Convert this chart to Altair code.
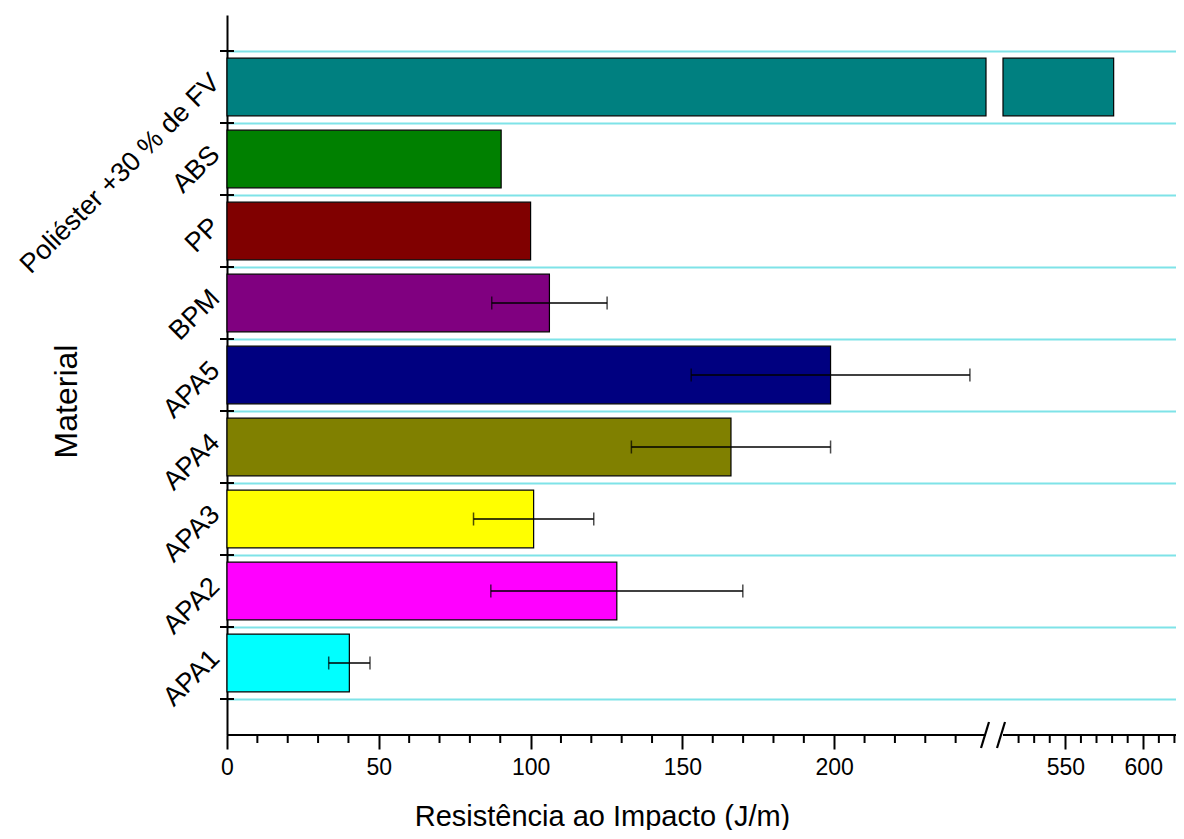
import altair as alt
import pandas as pd

# ---- data ----
materials = ["APA1", "APA2", "APA3", "APA4", "APA5", "BPM", "PP", "ABS", "Poliéster +30 % de FV"]
impact = [40.3, 128.4, 101.0, 166.0, 198.8, 106.2, 100.0, 90.3, 581.0]
impact_sd = [6.8, 41.5, 19.8, 32.8, 45.9, 19.0, None, None, None]
bar_colors = ["#00FFFF", "#FF00FF", "#FFFF00", "#808000", "#000080",
              "#800080", "#800000", "#008000", "#008080"]
major_ticks = [0, 50, 100, 150, 200, 550, 600]

# broken x axis
BREAK_LOW, BREAK_HIGH, X_MAX = 250, 510, 621
W, H = 949, 720

order = list(reversed(materials))  # top to bottom

rows = []
for m, v in zip(materials, impact):
    if v > BREAK_LOW:
        rows.append(dict(material=m, x0=0, x1=BREAK_LOW))
        rows.append(dict(material=m, x0=BREAK_HIGH, x1=v))
    else:
        rows.append(dict(material=m, x0=0, x1=v))
bars_df = pd.DataFrame(rows)

err_df = pd.DataFrame([dict(material=m, lo=v - s, hi=v + s)
                       for m, v, s in zip(materials, impact, impact_sd) if s is not None])

minor_ticks = [t for t in list(range(10, BREAK_LOW, 10)) + list(range(520, X_MAX, 10)) if t % 50 != 0]
minor_df = pd.DataFrame({"t": minor_ticks})
seg_df = pd.DataFrame({"a": [0, BREAK_HIGH], "b": [BREAK_LOW, X_MAX]})
mat_df = pd.DataFrame({"material": materials})
bottom_df = pd.DataFrame({"material": [materials[0]]})

FONT = "Liberation Sans"

xscale = alt.Scale(domain=[0, BREAK_LOW, BREAK_HIGH, X_MAX], range=[0, 759, 776, W], nice=False, zero=False)
yscale = alt.Scale(domain=order, paddingInner=0, paddingOuter=0.5)

x_axis = alt.Axis(values=major_ticks, title="Resistência ao Impacto (J/m)",
                  titleX=375, titleY=81, titleAlign="center", titleBaseline="middle",
                  titleFontSize=29, titleFontWeight="normal", titleColor="black", titleFont=FONT,
                  labelFontSize=23, labelColor="black", labelFont=FONT, labelPadding=7, labelFlush=False,
                  tickSize=14, tickWidth=2, tickColor="black", domain=False, grid=False)

y_axis = alt.Axis(title="Material", titleX=-161, titleY=386, titleAngle=270,
                  titleAlign="center", titleBaseline="middle",
                  titleFontSize=32, titleFontWeight="normal", titleColor="black", titleFont=FONT,
                  labelAngle=315, labelAlign="right", labelBaseline="middle", labelLimit=0,
                  labelFontSize=27, labelColor="black", labelFont=FONT, labelPadding=12, labelOffset=-9,
                  ticks=False, tickBand="extent", grid=True, gridColor="#7fe3e8", gridWidth=2,
                  domainColor="black", domainWidth=2)

bars = alt.Chart(bars_df).mark_bar(height=alt.RelativeBandSize(0.8), stroke="black", strokeWidth=1.2).encode(
    x=alt.X("x0:Q", scale=xscale, axis=x_axis),
    x2="x1:Q",
    y=alt.Y("material:N", sort=order, scale=yscale, axis=y_axis),
    color=alt.Color("material:N", scale=alt.Scale(domain=materials, range=bar_colors), legend=None),
)

err_line = alt.Chart(err_df).mark_rule(color="black", strokeWidth=1.5).encode(
    x=alt.X("lo:Q", scale=xscale, axis=x_axis),
    x2="hi:Q",
    y=alt.Y("material:N", sort=order, scale=yscale, axis=y_axis),
)
err_lo = alt.Chart(err_df).mark_tick(color="black", thickness=1.5, size=13).encode(
    x=alt.X("lo:Q", scale=xscale, axis=x_axis),
    y=alt.Y("material:N", sort=order, scale=yscale, axis=y_axis),
)
err_hi = alt.Chart(err_df).mark_tick(color="black", thickness=1.5, size=13).encode(
    x=alt.X("hi:Q", scale=xscale, axis=x_axis),
    y=alt.Y("material:N", sort=order, scale=yscale, axis=y_axis),
)

minor = alt.Chart(minor_df).mark_rule(color="black", strokeWidth=2).encode(
    x=alt.X("t:Q", scale=xscale, axis=x_axis),
    y=alt.value(H), y2=alt.value(H + 8),
)
segs = alt.Chart(seg_df).mark_rule(color="black", strokeWidth=2).encode(
    x=alt.X("a:Q", scale=xscale, axis=x_axis), x2="b:Q", y=alt.value(H),
)
# axis-break symbol "//"
slash1 = alt.Chart(mat_df.head(1)).mark_rule(color="black", strokeWidth=2.2).encode(
    x=alt.value(754), x2=alt.value(762), y=alt.value(H + 13), y2=alt.value(H - 13),
)
slash2 = alt.Chart(mat_df.head(1)).mark_rule(color="black", strokeWidth=2.2).encode(
    x=alt.value(770), x2=alt.value(778), y=alt.value(H + 13), y2=alt.value(H - 13),
)

yticks = alt.Chart(mat_df).mark_rule(color="black", strokeWidth=2).encode(
    y=alt.Y("material:N", sort=order, scale=yscale, axis=y_axis, bandPosition=0),
    x=alt.value(-7), x2=alt.value(7),
)
ytick_bottom = alt.Chart(bottom_df).mark_rule(color="black", strokeWidth=2).encode(
    y=alt.Y("material:N", sort=order, scale=yscale, axis=y_axis, bandPosition=1),
    x=alt.value(-7), x2=alt.value(7),
)

chart = alt.layer(bars, err_line, err_lo, err_hi, minor, segs, slash1, slash2, yticks, ytick_bottom).properties(
    width=W, height=H,
    autosize=alt.AutoSizeParams(type="none"),
    padding={"left": 219, "top": 7, "right": 0, "bottom": 95},
    background="white",
).configure_view(stroke=None)

chart.save("out.html", embed_options={"renderer": "svg", "actions": False})
